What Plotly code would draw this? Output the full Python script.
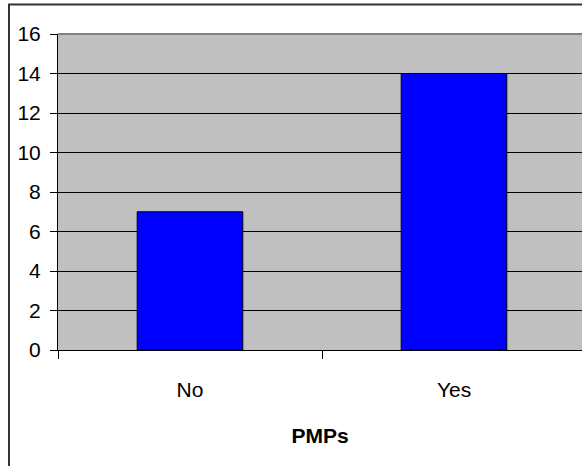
import plotly.graph_objects as go

categories = ["No", "Yes"]
values = [7, 14]
y_ticks = [0, 2, 4, 6, 8, 10, 12, 14, 16]
x_title = "PMPs"

FONT = "Liberation Sans, Arial, sans-serif"

fig = go.Figure()
fig.add_trace(go.Bar(
    x=categories, y=values, width=0.4,
    marker=dict(color="#0000FF", line=dict(color="#000000", width=1)),
))

L, T = 58, 34
W, H = 582, 466
R = 0
ph = 316
B = H - T - ph
pw = W - L - R

fig.update_layout(
    width=W, height=H,
    margin=dict(l=L, r=R, t=T, b=B, pad=0),
    paper_bgcolor="white", plot_bgcolor="#C0C0C0",
    showlegend=False,
    font=dict(family=FONT, size=21, color="black"),
    xaxis=dict(
        type="category", range=[-0.5, 1.5 - 4 / 264],
        tickson="boundaries", ticks="outside", ticklen=8, tickcolor="black",
        showline=True, linecolor="black", linewidth=1,
        showgrid=False, ticklabelstandoff=21,
        title=dict(text="<b>" + x_title + "</b>", standoff=28,
                   font=dict(family=FONT, size=21)),
    ),
    yaxis=dict(
        range=[0, 16], tickvals=y_ticks, ticks="outside", ticklen=7,
        tickcolor="black", showline=True, linecolor="black", linewidth=1,
        showgrid=True, gridcolor="black", gridwidth=1, zeroline=False,
        ticklabelstandoff=5,
    ),
    shapes=[
        dict(type="line", xref="paper", yref="paper", x0=0, x1=1, y0=1, y1=1,
             line=dict(color="#808080", width=2), layer="above"),
        dict(type="rect", xref="paper", yref="paper",
             x0=(9 - L) / pw, x1=1.2, y0=-0.6, y1=1 + (T - 4.5) / ph,
             line=dict(color="#333333", width=2), layer="above"),
    ],
)

fig.write_html(
    "out.html",
    config={"displayModeBar": False},
    post_script="document.body.style.margin='0';document.body.style.padding='0';",
)
